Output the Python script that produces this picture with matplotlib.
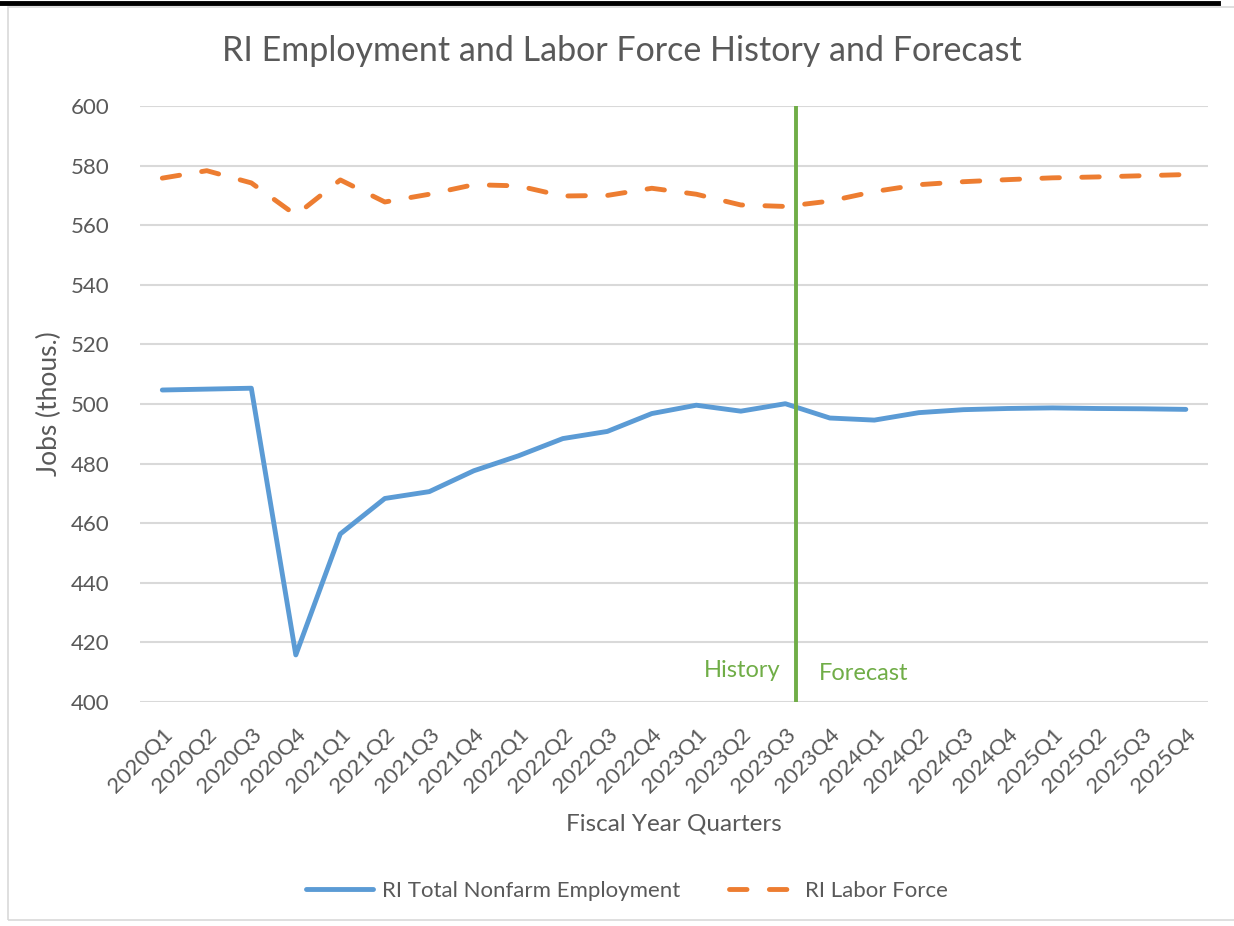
import matplotlib
matplotlib.use("Agg")
import matplotlib.pyplot as plt
from matplotlib.lines import Line2D
from matplotlib.patches import Rectangle

# quarters on the x axis
quarters = [f"{y}Q{q}" for y in range(2020, 2026) for q in range(1, 5)]

# RI Total Nonfarm Employment (thous.)
employment = [504.7, 505.0, 505.3, 415.8, 456.4, 468.3, 470.6, 477.6,
              482.6, 488.4, 490.8, 496.8, 499.6, 497.6, 500.1, 495.3,
              494.6, 497.1, 498.1, 498.5, 498.7, 498.5, 498.4, 498.2]

# RI Labor Force (thous.)
labor_force = [575.8, 578.3, 574.2, 563.4, 575.2, 567.8, 570.4, 573.6,
               573.2, 569.8, 570.0, 572.4, 570.4, 566.8, 566.3, 568.1,
               571.3, 573.6, 574.6, 575.3, 575.9, 576.2, 576.6, 577.0]

split_pos = 14.25  # history / forecast divider

plt.rcParams['font.family'] = ['Lato', 'DejaVu Sans']
txt = '#595959'
grid = '#d9d9d9'

fig = plt.figure(figsize=(12.34, 9.26), dpi=100)
ax = fig.add_axes([0.1135, 0.2419, 0.8655, 0.6436])

x = range(len(quarters))
ax.plot(x, employment, color='#5b9bd5', lw=3.5, solid_capstyle='round',
        solid_joinstyle='round', label='RI Total Nonfarm Employment', zorder=3)
ax.plot(x, labor_force, color='#ed7d31', lw=3.5, dashes=(3.6, 4.6),
        dash_capstyle='round', label='RI Labor Force', zorder=3)

ax.axvline(split_pos, color='#70ad47', lw=2.8, zorder=4)
ax.text(13.9, 410.5, 'History', color='#70ad47', fontsize=17, ha='right', va='center')
ax.text(14.76, 409.5, 'Forecast', color='#70ad47', fontsize=17, ha='left', va='center')

ax.set_xlim(-0.5, len(quarters) - 0.5)
ax.set_ylim(400, 600)
ax.set_yticks(range(400, 601, 20))
ax.set_xticks(list(x))
ax.set_xticklabels(quarters, rotation=45, ha='right', rotation_mode='anchor')
ax.tick_params(axis='both', length=0, colors=txt, labelsize=16)
ax.tick_params(axis='y', pad=22)
ax.tick_params(axis='x', pad=16)
ax.grid(axis='y', color=grid, lw=1.5)
ax.set_axisbelow(True)
for s in ax.spines.values():
    s.set_visible(False)

ax.set_ylabel('Jobs (thous.)', color=txt, fontsize=19, labelpad=6)
ax.set_xlabel('Fiscal Year Quarters', color=txt, fontsize=17.5, labelpad=12)
fig.text(0.504, 0.945, 'RI Employment and Labor Force History and Forecast',
         ha='center', va='center', color=txt, fontsize=24.5)

fig.legend(loc='center', bbox_to_anchor=(0.508, 0.038), ncol=2, frameon=False,
           fontsize=16, labelcolor=txt, handlelength=3.0, columnspacing=2.2,
           handletextpad=0.4)

# chart frame and top rule
fig.add_artist(Rectangle((8 / 1234, 6 / 926), 1240 / 1234, 913 / 926,
                         transform=fig.transFigure, fill=False,
                         edgecolor='#d9d9d9', lw=1.2))
fig.add_artist(Line2D([0, 1218 / 1234], [1 - 3 / 926, 1 - 3 / 926],
                      transform=fig.transFigure, color='black', lw=3.5))

fig.savefig('out.png', dpi=100)
